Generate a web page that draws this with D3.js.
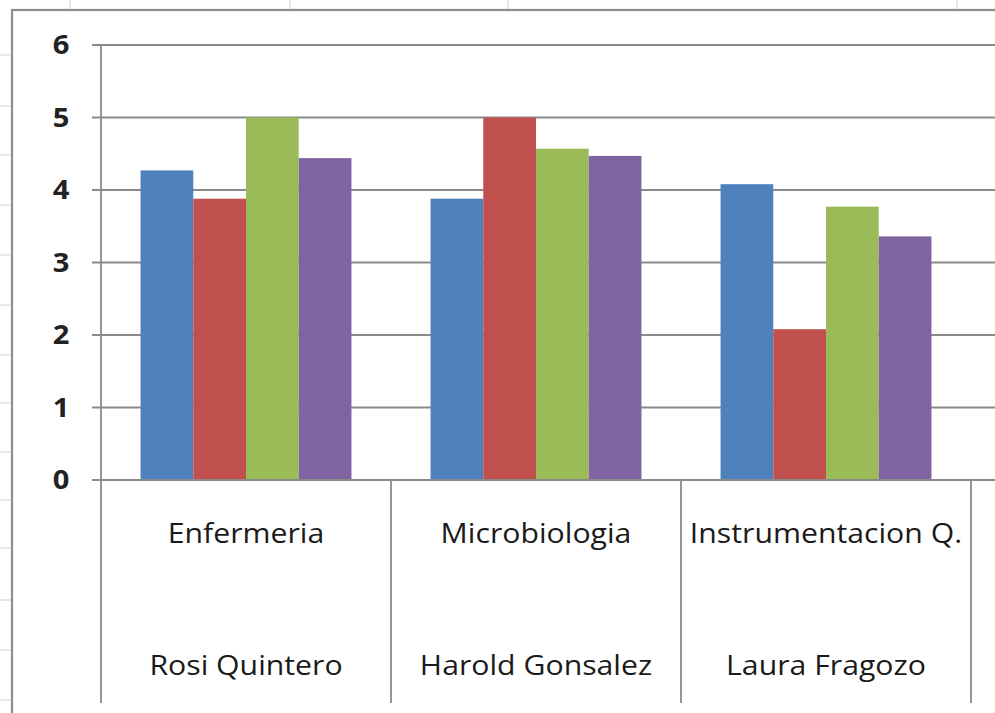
<!DOCTYPE html>
<html>
<head>
<meta charset="utf-8">
<script src="https://cdn.jsdelivr.net/npm/d3@7"></script>
<style>
  html, body { margin: 0; padding: 0; background: #fff; }
  svg { display: block; }
</style>
</head>
<body>
<svg id="chart" width="995" height="713"></svg>
<script>
// ---- data ----
const categories = ["Enfermeria", "Microbiologia", "Instrumentacion Q."];
const teachers = ["Rosi Quintero", "Harold Gonsalez", "Laura Fragozo"];
const seriesNames = ["Serie 1", "Serie 2", "Serie 3", "Serie 4"];
const series1 = [4.27, 3.88, 4.08];
const series2 = [3.88, 5.0, 2.08];
const series3 = [5.0, 4.57, 3.77];
const series4 = [4.44, 4.47, 3.36];
const yTicks = [0, 1, 2, 3, 4, 5, 6];
const colors = ["#4F81BD", "#C0504D", "#9BBB59", "#8064A2"];

// ---- layout ----
const W = 995, H = 713;
const plotLeft = 101, plotRight = 971, plotTop = 45, plotBottom = 480;
const frameX = 12, frameY = 10;
const sheetCols = [70, 290, 508, 957];
const sheetRows = [55, 106, 155, 205, 255, 305, 355, 403, 452, 500, 548, 600, 650, 700];
const textStretch = 1.12;

const svg = d3.select("#chart");
const table = categories.map((c, i) => ({
  cat: c, teacher: teachers[i],
  values: [series1[i], series2[i], series3[i], series4[i]]
}));

// spreadsheet background lines
svg.append("g").selectAll("line").data(sheetCols).join("line")
  .attr("x1", d => d).attr("x2", d => d).attr("y1", 0).attr("y2", frameY)
  .attr("stroke", "#d2d2d2").attr("stroke-width", 1);
svg.append("g").selectAll("line").data(sheetRows).join("line")
  .attr("x1", 0).attr("x2", frameX).attr("y1", d => d).attr("y2", d => d)
  .attr("stroke", "#d2d2d2").attr("stroke-width", 1);

// chart frame
svg.append("rect").attr("x", frameX).attr("y", frameY)
  .attr("width", W - frameX + 10).attr("height", H - frameY + 10)
  .attr("fill", "#fff").attr("stroke", "#8e8e8e").attr("stroke-width", 2.2);

// scales
const y = d3.scaleLinear().domain([0, 6]).range([plotBottom, plotTop]);
const x0 = d3.scaleBand().domain(categories).range([plotLeft, plotRight])
  .paddingInner(0).paddingOuter(0);
const x1 = d3.scaleBand().domain(seriesNames).range([0, x0.bandwidth()])
  .paddingInner(0).paddingOuter(0.75);

// gridlines
svg.append("g").selectAll("line").data(yTicks).join("line")
  .attr("x1", plotLeft - 9).attr("x2", W)
  .attr("y1", d => y(d)).attr("y2", d => y(d))
  .attr("stroke", "#8a8a8a").attr("stroke-width", 1.8);

// bars
const groups = svg.append("g").selectAll("g").data(table).join("g")
  .attr("transform", d => `translate(${x0(d.cat)},0)`);
groups.selectAll("rect").data(d => d.values.map((v, j) => ({ s: seriesNames[j], v, j })))
  .join("rect")
  .attr("x", d => x1(d.s))
  .attr("width", x1.bandwidth())
  .attr("y", d => y(d.v))
  .attr("height", d => y(0) - y(d.v))
  .attr("fill", d => colors[d.j]);

// x axis line
svg.append("line").attr("x1", plotLeft - 9).attr("x2", W)
  .attr("y1", y(0)).attr("y2", y(0))
  .attr("stroke", "#8a8a8a").attr("stroke-width", 1.8);

// y axis line
svg.append("line").attr("x1", plotLeft).attr("x2", plotLeft)
  .attr("y1", plotTop).attr("y2", plotBottom)
  .attr("stroke", "#8a8a8a").attr("stroke-width", 1.8);

// y tick labels
svg.append("g").selectAll("text").data(yTicks).join("text")
  .attr("transform", d => `translate(61,${y(d) + 9}) scale(${textStretch},1)`)
  .attr("text-anchor", "middle")
  .attr("font-family", "'Open Sans', sans-serif")
  .attr("font-size", 26).attr("font-weight", 700)
  .attr("fill", "#222")
  .text(d => d);

// category dividers (multi-level axis)
const dividers = categories.map(c => x0(c)).concat([x0(categories[categories.length - 1]) + x0.bandwidth()]);
svg.append("g").selectAll("line").data(dividers).join("line")
  .attr("x1", d => d).attr("x2", d => d)
  .attr("y1", plotBottom).attr("y2", 703)
  .attr("stroke", "#8a8a8a").attr("stroke-width", 1.8);

// category labels
svg.append("g").selectAll("text").data(table).join("text")
  .attr("transform", d => `translate(${x0(d.cat) + x0.bandwidth() / 2},543) scale(${textStretch},1)`)
  .attr("text-anchor", "middle")
  .attr("font-family", "'Open Sans', sans-serif")
  .attr("font-size", 27)
  .attr("fill", "#1a1a1a")
  .text(d => d.cat);
svg.append("g").selectAll("text").data(table).join("text")
  .attr("transform", d => `translate(${x0(d.cat) + x0.bandwidth() / 2},675) scale(${textStretch},1)`)
  .attr("text-anchor", "middle")
  .attr("font-family", "'Open Sans', sans-serif")
  .attr("font-size", 27)
  .attr("fill", "#1a1a1a")
  .text(d => d.teacher);
</script>
</body>
</html>
